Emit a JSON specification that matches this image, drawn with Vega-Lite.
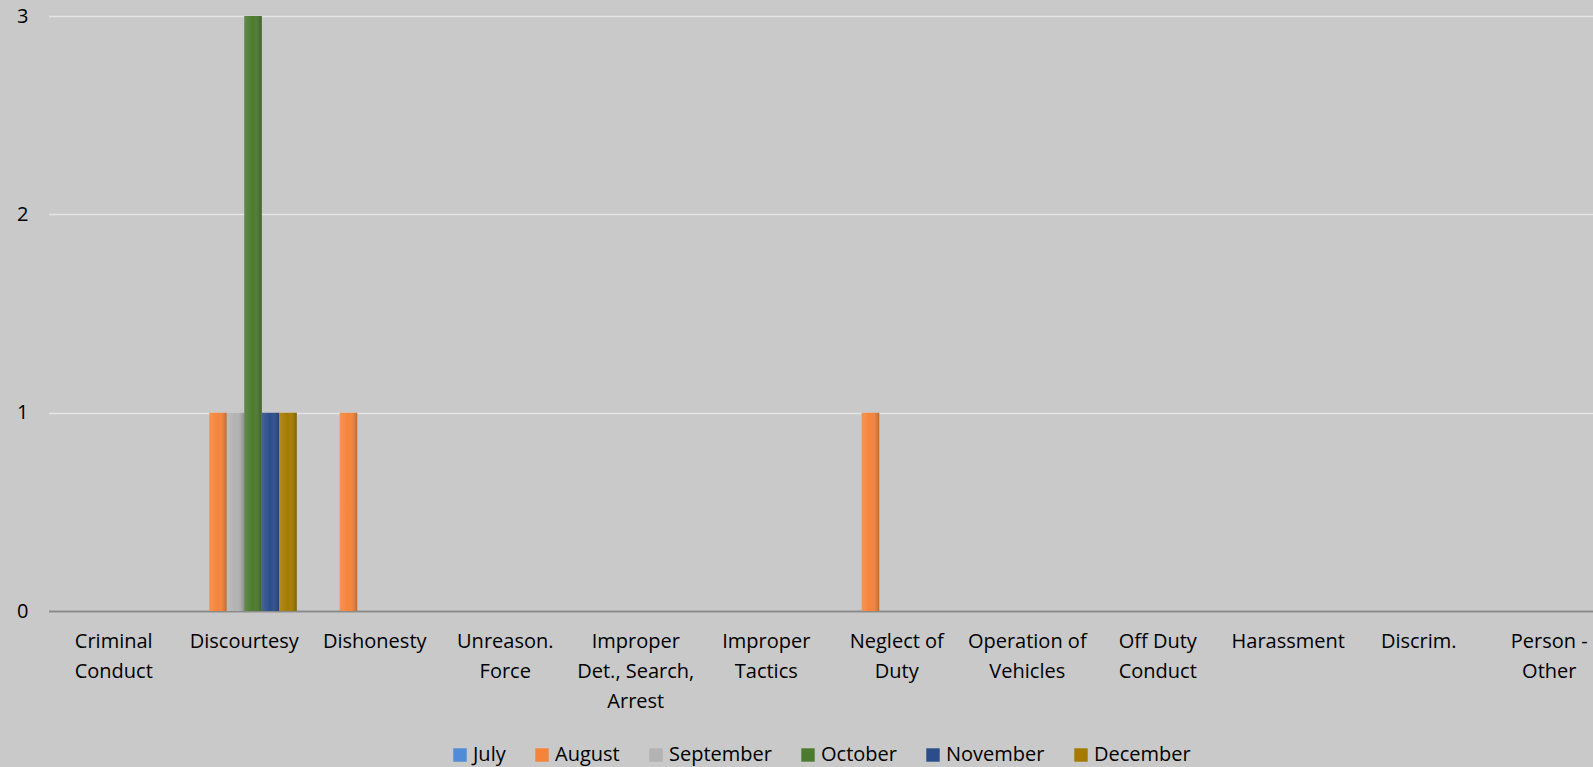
{
  "$schema": "https://vega.github.io/schema/vega-lite/v6.json",
  "autosize": {"type": "none"},
  "width": 1542,
  "height": 595,
  "padding": {"left": 51, "top": 16, "right": 0, "bottom": 156},
  "background": "#c9c9c9",
  "config": {
    "view": {"stroke": null, "fill": "#c9c9c9"},
    "font": "Open Sans"
  },
  "data": {
    "values": [
      {"category": "Criminal Conduct", "month": "July", "count": 0},
      {"category": "Criminal Conduct", "month": "August", "count": 0},
      {"category": "Criminal Conduct", "month": "September", "count": 0},
      {"category": "Criminal Conduct", "month": "October", "count": 0},
      {"category": "Criminal Conduct", "month": "November", "count": 0},
      {"category": "Criminal Conduct", "month": "December", "count": 0},
      {"category": "Discourtesy", "month": "July", "count": 0},
      {"category": "Discourtesy", "month": "August", "count": 1},
      {"category": "Discourtesy", "month": "September", "count": 1},
      {"category": "Discourtesy", "month": "October", "count": 3},
      {"category": "Discourtesy", "month": "November", "count": 1},
      {"category": "Discourtesy", "month": "December", "count": 1},
      {"category": "Dishonesty", "month": "July", "count": 0},
      {"category": "Dishonesty", "month": "August", "count": 1},
      {"category": "Dishonesty", "month": "September", "count": 0},
      {"category": "Dishonesty", "month": "October", "count": 0},
      {"category": "Dishonesty", "month": "November", "count": 0},
      {"category": "Dishonesty", "month": "December", "count": 0},
      {"category": "Unreason. Force", "month": "July", "count": 0},
      {"category": "Improper Det., Search, Arrest", "month": "July", "count": 0},
      {"category": "Improper Tactics", "month": "July", "count": 0},
      {"category": "Neglect of Duty", "month": "July", "count": 0},
      {"category": "Neglect of Duty", "month": "August", "count": 1},
      {"category": "Neglect of Duty", "month": "September", "count": 0},
      {"category": "Neglect of Duty", "month": "October", "count": 0},
      {"category": "Neglect of Duty", "month": "November", "count": 0},
      {"category": "Neglect of Duty", "month": "December", "count": 0},
      {"category": "Operation of Vehicles", "month": "July", "count": 0},
      {"category": "Off Duty Conduct", "month": "July", "count": 0},
      {"category": "Harassment", "month": "July", "count": 0},
      {"category": "Discrim.", "month": "July", "count": 0},
      {"category": "Person - Other", "month": "July", "count": 0}
    ]
  },
  "encoding": {
    "x": {
      "field": "category",
      "type": "nominal",
      "sort": ["Criminal Conduct", "Discourtesy", "Dishonesty", "Unreason. Force", "Improper Det., Search, Arrest", "Improper Tactics", "Neglect of Duty", "Operation of Vehicles", "Off Duty Conduct", "Harassment", "Discrim.", "Person - Other"],
      "scale": {"paddingInner": 0.195, "paddingOuter": 0.0975, "range": [-2.5, 1563.5]},
      "axis": {
        "title": null,
        "labelAngle": 0,
        "labelFontSize": 20,
        "labelColor": "#000000",
        "labelPadding": 20,
        "labelLineHeight": 30,
        "labelBaseline": "top",
        "ticks": false,
        "domain": true,
        "domainColor": "#8a8a8a",
        "domainWidth": 2,
        "grid": false,
        "labelExpr": "datum.label == 'Criminal Conduct' ? ['Criminal', 'Conduct'] : datum.label == 'Unreason. Force' ? ['Unreason.', 'Force'] : datum.label == 'Improper Det., Search, Arrest' ? ['Improper', 'Det., Search,', 'Arrest'] : datum.label == 'Improper Tactics' ? ['Improper', 'Tactics'] : datum.label == 'Neglect of Duty' ? ['Neglect of', 'Duty'] : datum.label == 'Operation of Vehicles' ? ['Operation of', 'Vehicles'] : datum.label == 'Off Duty Conduct' ? ['Off Duty', 'Conduct'] : datum.label == 'Person - Other' ? ['Person -', 'Other'] : datum.label"
      }
    },
    "xOffset": {
      "field": "month",
      "type": "nominal",
      "sort": ["July", "August", "September", "October", "November", "December"]
    },
    "y": {
      "field": "count",
      "type": "quantitative",
      "scale": {"domain": [0, 3], "nice": false},
      "axis": {
        "title": null,
        "values": [0, 1, 2, 3],
        "labelFontSize": 20,
        "labelColor": "#000000",
        "labelPadding": 23,
        "ticks": false,
        "domain": false,
        "grid": true,
        "gridColor": "#e4e4e4",
        "gridWidth": 1.5
      }
    }
  },
  "layer": [
    {
      "mark": {"type": "bar"},
      "encoding": {
        "color": {
          "field": "month",
          "type": "nominal",
          "sort": ["July", "August", "September", "October", "November", "December"],
          "scale": {
            "domain": ["July", "August", "September", "October", "November", "December"],
            "range": ["#4f8bd6", "#f5843a", "#b3b3b3", "#4c7a2f", "#2b4e8a", "#a47b00"]
          },
          "legend": {
            "title": null,
            "orient": "none",
            "direction": "horizontal",
            "legendX": 399,
            "legendY": 729,
            "symbolType": "square",
            "symbolSize": 180,
            "symbolStrokeWidth": 0,
            "symbolOpacity": 1,
            "labelFontSize": 20,
            "labelColor": "#000000",
            "labelOffset": 3,
            "columnPadding": 26
          }
        }
      }
    },
    {
      "mark": {
        "type": "bar",
        "fill": {
          "gradient": "linear",
          "x1": 0, "y1": 0, "x2": 1, "y2": 0,
          "stops": [
            {"offset": 0, "color": "rgba(255,255,255,0.12)"},
            {"offset": 0.5, "color": "rgba(255,255,255,0.0)"},
            {"offset": 1, "color": "rgba(0,0,0,0.22)"}
          ]
        }
      },
      "encoding": {}
    }
  ]
}
